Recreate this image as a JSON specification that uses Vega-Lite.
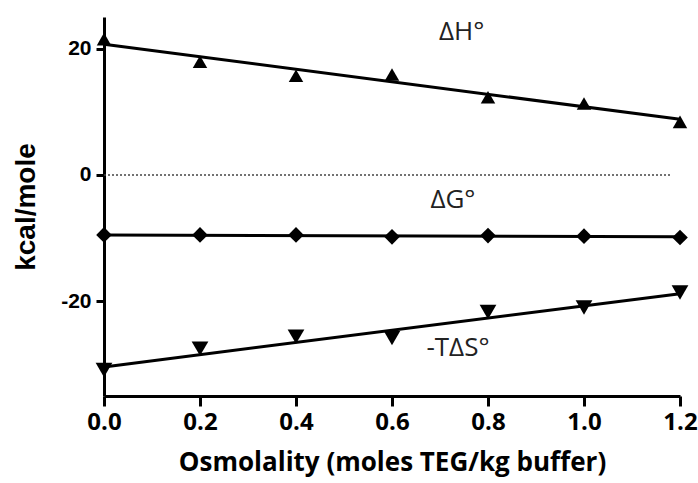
{
  "$schema": "https://vega.github.io/schema/vega-lite/v6.json",
  "autosize": "none",
  "width": 576,
  "height": 379,
  "padding": {"left": 104, "top": 17, "right": 18, "bottom": 87},
  "background": "white",
  "config": {
    "view": {"stroke": null},
    "axis": {
      "grid": false,
      "domainColor": "black",
      "domainWidth": 3,
      "tickColor": "black",
      "tickWidth": 3,
      "labelColor": "black",
      "titleColor": "black"
    }
  },
  "datasets": {
    "points": [
      {"x": 0.0, "value": 21.5, "series": "ΔH°"},
      {"x": 0.2, "value": 17.9, "series": "ΔH°"},
      {"x": 0.4, "value": 15.7, "series": "ΔH°"},
      {"x": 0.6, "value": 15.9, "series": "ΔH°"},
      {"x": 0.8, "value": 12.3, "series": "ΔH°"},
      {"x": 1.0, "value": 11.3, "series": "ΔH°"},
      {"x": 1.2, "value": 8.4, "series": "ΔH°"},
      {"x": 0.0, "value": -9.5, "series": "ΔG°"},
      {"x": 0.2, "value": -9.5, "series": "ΔG°"},
      {"x": 0.4, "value": -9.5, "series": "ΔG°"},
      {"x": 0.6, "value": -9.8, "series": "ΔG°"},
      {"x": 0.8, "value": -9.6, "series": "ΔG°"},
      {"x": 1.0, "value": -9.7, "series": "ΔG°"},
      {"x": 1.2, "value": -9.9, "series": "ΔG°"},
      {"x": 0.0, "value": -30.9, "series": "-TΔS°"},
      {"x": 0.2, "value": -27.5, "series": "-TΔS°"},
      {"x": 0.4, "value": -25.6, "series": "-TΔS°"},
      {"x": 0.6, "value": -25.8, "series": "-TΔS°"},
      {"x": 0.8, "value": -21.7, "series": "-TΔS°"},
      {"x": 1.0, "value": -21.0, "series": "-TΔS°"},
      {"x": 1.2, "value": -18.6, "series": "-TΔS°"}
    ],
    "fits": [
      {"x": 0.0, "value": 20.7, "series": "ΔH°"},
      {"x": 1.2, "value": 8.8, "series": "ΔH°"},
      {"x": 0.0, "value": -9.5, "series": "ΔG°"},
      {"x": 1.2, "value": -9.8, "series": "ΔG°"},
      {"x": 0.0, "value": -30.4, "series": "-TΔS°"},
      {"x": 1.2, "value": -18.8, "series": "-TΔS°"}
    ],
    "zero": [
      {"x": 0.0, "x2": 1.183, "value": 0}
    ],
    "labels": [
      {"x": 0.745, "value": 22.6, "text": "ΔH°"},
      {"x": 0.727, "value": -4.0, "text": "ΔG°"},
      {"x": 0.7375, "value": -27.4, "text": "-TΔS°"}
    ]
  },
  "layer": [
    {
      "data": {"name": "zero"},
      "mark": {"type": "rule", "color": "#444", "strokeWidth": 1.5, "strokeDash": [2, 2]},
      "encoding": {
        "x": {"field": "x", "type": "quantitative", "scale": {"domain": [0, 1.2]}},
        "x2": {"field": "x2"},
        "y": {"field": "value", "type": "quantitative", "scale": {"domain": [-35, 25]}}
      }
    },
    {
      "data": {"name": "fits"},
      "mark": {"type": "line", "color": "black", "strokeWidth": 3},
      "encoding": {
        "x": {"field": "x", "type": "quantitative"},
        "y": {"field": "value", "type": "quantitative"},
        "detail": {"field": "series"}
      }
    },
    {
      "data": {"name": "points"},
      "mark": {"type": "point", "filled": true, "color": "black", "opacity": 1},
      "encoding": {
        "x": {
          "field": "x", "type": "quantitative",
          "scale": {"domain": [0, 1.2], "nice": false, "zero": false},
          "axis": {
            "values": [0, 0.2, 0.4, 0.6, 0.8, 1.0, 1.2],
            "format": ".1f",
            "tickSize": 10,
            "labelPadding": 4,
            "labelFont": "Open Sans",
            "labelFontWeight": "bold",
            "labelFontSize": 24,
            "labelFlush": false,
            "title": "Osmolality (moles TEG/kg buffer)",
            "titleFont": "Open Sans",
            "titleFontWeight": "bold",
            "titleFontSize": 26,
            "titlePadding": 15
          }
        },
        "y": {
          "field": "value", "type": "quantitative",
          "scale": {"domain": [-35, 25], "nice": false, "zero": false},
          "axis": {
            "values": [-20, 0, 20],
            "tickSize": 8,
            "labelPadding": 5,
            "labelExpr": "datum.value < 0 ? '-' + abs(datum.value) : '' + datum.value",
            "labelFont": "Liberation Sans",
            "labelFontWeight": "bold",
            "labelFontSize": 21,
            "title": "kcal/mole",
            "titleFont": "Liberation Sans",
            "titleFontWeight": "bold",
            "titleFontSize": 28,
            "titlePadding": 20
          }
        },
        "shape": {
          "field": "series", "type": "nominal",
          "scale": {"domain": ["ΔH°", "ΔG°", "-TΔS°"], "range": ["triangle-up", "diamond", "triangle-down"]},
          "legend": null
        },
        "size": {
          "field": "series", "type": "nominal",
          "scale": {"domain": ["ΔH°", "ΔG°", "-TΔS°"], "range": [210, 280, 210]},
          "legend": null
        }
      }
    },
    {
      "data": {"name": "labels"},
      "mark": {"type": "text", "font": "Open Sans", "fontSize": 26, "color": "#222", "align": "center", "baseline": "middle"},
      "encoding": {
        "x": {"field": "x", "type": "quantitative"},
        "y": {"field": "value", "type": "quantitative"},
        "text": {"field": "text"}
      }
    }
  ]
}
